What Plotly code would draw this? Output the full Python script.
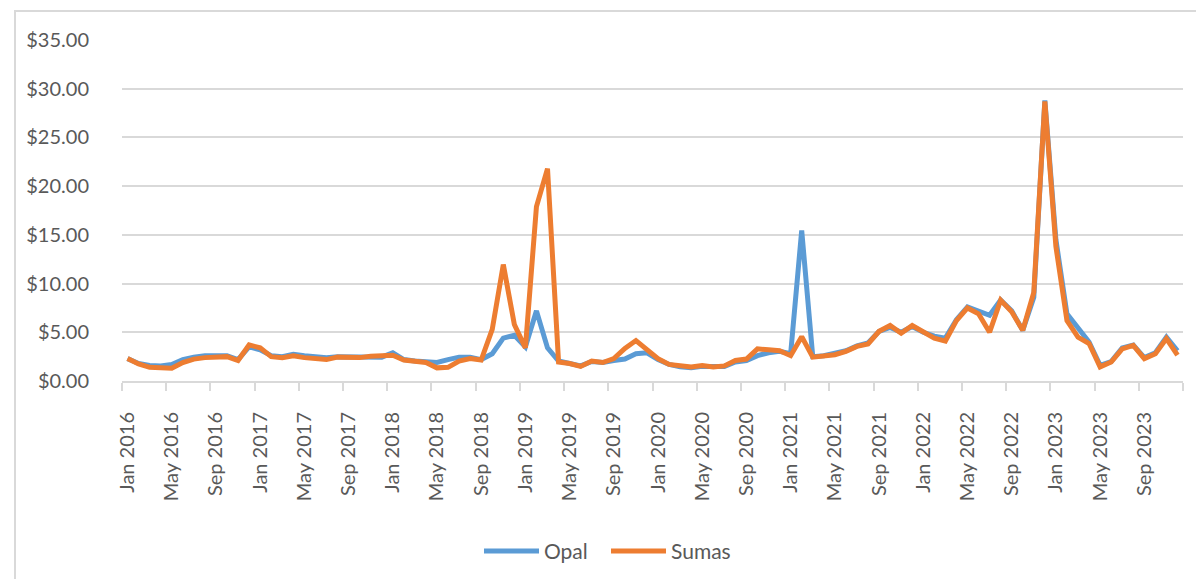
import plotly.graph_objects as go

month_names = ["Jan", "Feb", "Mar", "Apr", "May", "Jun", "Jul", "Aug", "Sep", "Oct", "Nov", "Dec"]
years = [2016, 2017, 2018, 2019, 2020, 2021, 2022, 2023]
categories = [f"{m} {y}" for y in years for m in month_names]

opal = [
    2.3, 1.8, 1.6, 1.55, 1.7, 2.2, 2.45, 2.6, 2.6, 2.6, 2.2, 3.5,
    3.2, 2.6, 2.5, 2.75, 2.6, 2.55, 2.4, 2.5, 2.5, 2.45, 2.55, 2.45,
    2.9, 2.2, 2.05, 1.95, 1.9, 2.2, 2.45, 2.45, 2.2, 2.8, 4.4, 4.7,
    3.5, 7.2, 3.4, 2.05, 1.85, 1.55, 2.0, 1.9, 2.1, 2.25, 2.8, 2.9,
    2.2, 1.7, 1.45, 1.35, 1.5, 1.5, 1.5, 1.95, 2.1, 2.6, 2.9, 3.05,
    2.8, 15.45, 2.5, 2.6, 2.8, 3.1, 3.6, 3.9, 5.1, 5.5, 5.0, 5.6,
    5.0, 4.6, 4.4, 6.3, 7.6, 7.2, 6.75, 8.3, 7.2, 5.2, 8.6, 28.8,
    14.5, 6.9, 5.5, 4.0, 1.6, 2.0, 3.4, 3.7, 2.4, 2.9, 4.5, 3.1,
]

sumas = [
    2.3, 1.75, 1.4, 1.3, 1.3, 1.9, 2.25, 2.4, 2.5, 2.5, 2.1, 3.7,
    3.4, 2.5, 2.4, 2.6, 2.4, 2.3, 2.2, 2.45, 2.45, 2.4, 2.55, 2.6,
    2.65, 2.15, 2.05, 1.9, 1.35, 1.4, 2.05, 2.3, 2.15, 5.3, 11.95, 5.8,
    3.4, 17.9, 21.8, 1.95, 1.8, 1.5, 2.05, 1.9, 2.3, 3.35, 4.15, 3.2,
    2.3, 1.7, 1.55, 1.45, 1.6, 1.45, 1.55, 2.1, 2.25, 3.3, 3.2, 3.1,
    2.6, 4.55, 2.45, 2.55, 2.7, 3.05, 3.55, 3.8, 5.1, 5.7, 4.9, 5.7,
    5.0, 4.4, 4.1, 6.2, 7.5, 6.9, 5.0, 8.3, 7.1, 5.2, 9.1, 28.7,
    13.8, 6.2, 4.5, 3.85, 1.45, 1.95, 3.3, 3.65, 2.3, 2.8, 4.35, 2.65,
]

FONT = "Lato"
TXT = "#595959"
GRID = "#d9d9d9"

fig = go.Figure()
fig.add_trace(go.Scatter(x=categories, y=opal, mode="lines", name="Opal",
                         line=dict(color="#5B9BD5", width=5)))
fig.add_trace(go.Scatter(x=categories, y=sumas, mode="lines", name="Sumas",
                         line=dict(color="#ED7D31", width=5)))

W, H = 1204, 579
L, R, T, B = 114, 29, 32, 205.5
pw = W - L - R
ph = H - T - B

fig.update_layout(
    width=W, height=H,
    margin=dict(l=L, r=R, t=T, b=B, pad=0),
    paper_bgcolor="white", plot_bgcolor="white",
    font=dict(family=FONT, size=20, color=TXT),
    showlegend=True,
    legend=dict(orientation="h", x=(471 - L) / pw, xanchor="left",
                y=(H - B - 544) / ph, yanchor="middle",
                itemwidth=55, entrywidth=57, entrywidthmode="pixels",
                font=dict(family=FONT, size=21, color=TXT),
                bgcolor="rgba(0,0,0,0)"),
    xaxis=dict(type="category", range=[-0.5, len(categories) - 0.5],
               tickmode="linear", tick0=0, dtick=4, tickson="boundaries",
               ticks="outside", ticklen=8, tickcolor=GRID, tickwidth=2,
               tickangle=-90, ticklabelstandoff=21,
               showgrid=False, showline=True, linecolor=GRID, linewidth=2,
               zeroline=False,
               tickfont=dict(family=FONT, size=20, color=TXT)),
    yaxis=dict(range=[0, 35], dtick=5, tick0=0, tickprefix="$", tickformat=".2f",
               showgrid=True, gridcolor=GRID, gridwidth=2, zeroline=False,
               showline=False, ticks="", ticklabelstandoff=32,
               tickfont=dict(family=FONT, size=20, color=TXT)),
)

fig.add_shape(type="rect", xref="paper", yref="paper",
              x0=(7 - L) / pw, x1=(1197 - L) / pw,
              y0=(H - B - 577) / ph, y1=(H - B - 3) / ph,
              line=dict(color=GRID, width=2), fillcolor="rgba(0,0,0,0)", layer="below")

fig.write_html("out.html")
